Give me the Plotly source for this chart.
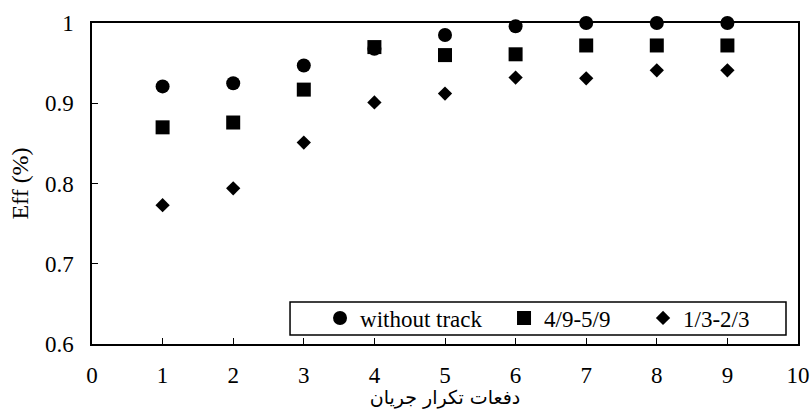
import plotly.graph_objects as go

x_vals = [1, 2, 3, 4, 5, 6, 7, 8, 9]
without_track = [0.921, 0.925, 0.947, 0.968, 0.985, 0.996, 1.0, 1.0, 1.0]
track_4959 = [0.870, 0.876, 0.917, 0.970, 0.960, 0.961, 0.972, 0.972, 0.972]
track_1323 = [0.773, 0.794, 0.851, 0.901, 0.912, 0.932, 0.931, 0.941, 0.941]

series_names = ["without track", "4/9-5/9", "1/3-2/3"]
x_title = "دفعات تکرار جریان"
y_title = "Eff (%)"

FONT = "Liberation Serif"
FS = 23

W, H = 811, 409

fig = go.Figure()
fig.add_trace(go.Scatter(x=x_vals, y=without_track, mode="markers", name=series_names[0],
                         legend="legend",
                         marker=dict(symbol="circle", size=14, color="black"), cliponaxis=False))
fig.add_trace(go.Scatter(x=x_vals, y=track_4959, mode="markers", name=series_names[1],
                         legend="legend2",
                         marker=dict(symbol="square", size=14, color="black"), cliponaxis=False))
fig.add_trace(go.Scatter(x=x_vals, y=track_1323, mode="markers", name=series_names[2],
                         legend="legend3",
                         marker=dict(symbol="diamond", size=11, color="black"), cliponaxis=False))

leg_common = dict(orientation="h", yanchor="middle", xanchor="left", y=0.081,
                  borderwidth=0, bgcolor="rgba(0,0,0,0)",
                  font=dict(family=FONT, size=FS, color="black"))

fig.update_layout(
    width=W, height=H,
    margin=dict(l=92, r=13, t=23, b=65, autoexpand=False),
    paper_bgcolor="white", plot_bgcolor="white",
    font=dict(family=FONT, size=FS, color="black"),
    showlegend=True,
    legend=dict(x=0.323, **leg_common),
    legend2=dict(x=0.5836, **leg_common),
    legend3=dict(x=0.7805, **leg_common),
    shapes=[dict(type="rect", xref="paper", yref="paper",
                 x0=0.2805, x1=0.983, y0=0.028, y1=0.1308,
                 line=dict(color="black", width=1.5), fillcolor="white", layer="above")],
)
fig.update_xaxes(range=[0, 10], dtick=1, tick0=0, showgrid=False, zeroline=False,
                 showline=True, linecolor="black", linewidth=1.5, mirror=True,
                 ticks="inside", ticklen=6, tickwidth=1.2, tickcolor="black",
                 ticklabelstandoff=10, automargin=False,
                 title=dict(text=x_title, standoff=6,
                            font=dict(family="DejaVu Sans", size=19)))
fig.update_yaxes(range=[0.6, 1.0], dtick=0.1, tick0=0.6, showgrid=False, zeroline=False,
                 showline=True, linecolor="black", linewidth=1.5, mirror=True,
                 ticks="inside", ticklen=6, tickwidth=1.2, tickcolor="black",
                 ticklabelstandoff=12, automargin=False,
                 title=dict(text=y_title, standoff=10, font=dict(family=FONT, size=24)))

fig.write_html("out.html",
               config={"displayModeBar": False},
               post_script="document.body.style.margin='0';document.body.style.overflow='hidden';")
